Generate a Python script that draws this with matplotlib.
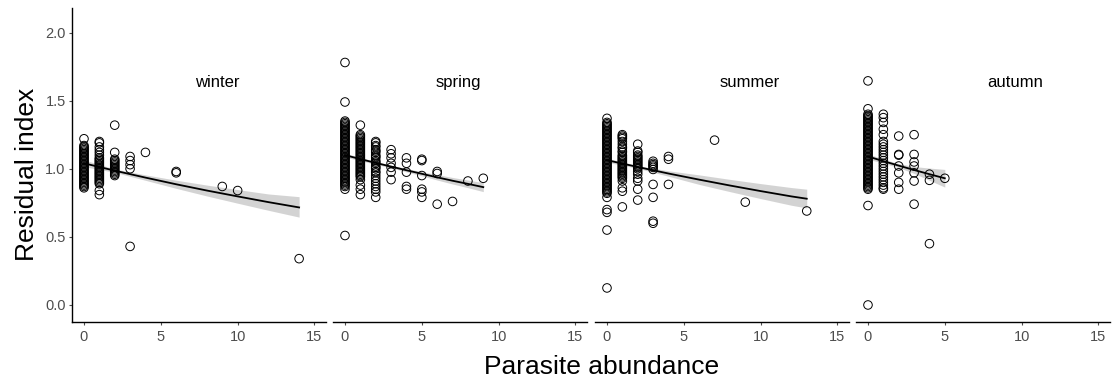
import numpy as np
import matplotlib
matplotlib.use('Agg')
import matplotlib.pyplot as plt

plt.rcParams['font.family'] = ['Liberation Sans', 'DejaVu Sans']

seasons = ['winter', 'spring', 'summer', 'autumn']

# parasite abundance columns and residual index values
winter_cols = [0, 1, 2, 3, 4, 6, 9, 10, 14]
winter_vals = [
    [1.22, 1.17, 1.16, 1.15, 1.14, 1.13, 1.12, 1.11, 1.10, 1.09, 1.08, 1.07, 1.06, 1.05, 1.04,
     1.03, 1.02, 1.01, 1.00, 0.99, 0.98, 0.97, 0.96, 0.95, 0.94, 0.93, 0.92, 0.91, 0.90, 0.89,
     0.88, 0.87, 0.86],
    [1.20, 1.19, 1.16, 1.14, 1.12, 1.10, 1.08, 1.07, 1.06, 1.05, 1.04, 1.03, 1.02, 1.01, 1.00,
     0.99, 0.98, 0.97, 0.96, 0.95, 0.94, 0.93, 0.92, 0.91, 0.90, 0.89, 0.84, 0.81],
    [1.32, 1.12, 1.07, 1.06, 1.05, 1.04, 1.03, 1.02, 1.01, 1.00, 0.99, 0.98, 0.97, 0.96, 0.95],
    [1.09, 1.06, 1.03, 1.00, 0.43],
    [1.12],
    [0.98, 0.97],
    [0.87],
    [0.84],
    [0.34],
]

spring_cols = [0, 1, 2, 3, 4, 5, 6, 7, 8, 9]
spring_vals = [
    [1.78, 1.49, 1.35, 1.34, 1.33, 1.32, 1.31, 1.30, 1.29, 1.28, 1.27, 1.26, 1.25, 1.24, 1.23,
     1.22, 1.21, 1.20, 1.19, 1.18, 1.17, 1.16, 1.15, 1.14, 1.13, 1.12, 1.11, 1.10, 1.09, 1.08,
     1.07, 1.06, 1.05, 1.04, 1.03, 1.02, 1.01, 1.00, 0.99, 0.98, 0.97, 0.96, 0.95, 0.94, 0.93,
     0.92, 0.91, 0.90, 0.89, 0.88, 0.87, 0.85, 0.51],
    [1.32, 1.25, 1.24, 1.23, 1.22, 1.21, 1.20, 1.19, 1.18, 1.17, 1.16, 1.15, 1.14, 1.13, 1.12,
     1.11, 1.10, 1.09, 1.08, 1.07, 1.06, 1.05, 1.04, 1.03, 1.02, 1.01, 1.00, 0.99, 0.98, 0.97,
     0.96, 0.95, 0.94, 0.92, 0.88, 0.85, 0.81],
    [1.20, 1.19, 1.17, 1.16, 1.14, 1.13, 1.12, 1.10, 1.09, 1.08, 1.06, 1.05, 1.04, 1.02, 1.01,
     1.00, 0.98, 0.97, 0.95, 0.93, 0.91, 0.89, 0.87, 0.85, 0.83, 0.79],
    [1.14, 1.11, 1.08, 1.04, 1.01, 0.975, 0.92],
    [1.08, 1.04, 0.975, 0.87, 0.85],
    [1.07, 1.06, 0.95, 0.85, 0.83, 0.79],
    [0.98, 0.965, 0.74],
    [0.76],
    [0.91],
    [0.93],
]

summer_cols = [0, 1, 2, 3, 4, 7, 9, 13]
summer_vals = [
    [1.37, 1.34, 1.33, 1.32, 1.31, 1.30, 1.29, 1.28, 1.27, 1.26, 1.25, 1.24, 1.23, 1.22, 1.21,
     1.20, 1.19, 1.18, 1.17, 1.16, 1.15, 1.14, 1.13, 1.12, 1.11, 1.10, 1.09, 1.08, 1.07, 1.06,
     1.05, 1.04, 1.03, 1.02, 1.01, 1.00, 0.99, 0.98, 0.97, 0.96, 0.95, 0.94, 0.93, 0.92, 0.91,
     0.90, 0.89, 0.88, 0.87, 0.86, 0.85, 0.84, 0.83, 0.82, 0.79, 0.70, 0.68, 0.55, 0.125],
    [1.25, 1.24, 1.23, 1.22, 1.20, 1.18, 1.16, 1.15, 1.13, 1.12, 1.10, 1.09, 1.08, 1.07, 1.06,
     1.05, 1.04, 1.03, 1.02, 1.01, 1.00, 0.99, 0.98, 0.97, 0.96, 0.95, 0.94, 0.93, 0.91, 0.86,
     0.835, 0.72],
    [1.18, 1.13, 1.12, 1.10, 1.09, 1.08, 1.07, 1.06, 1.05, 1.04, 1.03, 1.02, 1.01, 1.00, 0.98,
     0.96, 0.93, 0.91, 0.85, 0.77],
    [1.055, 1.04, 1.03, 1.02, 1.01, 0.995, 0.885, 0.79, 0.615, 0.60],
    [1.09, 1.07, 0.885],
    [1.21],
    [0.755],
    [0.69],
]

autumn_cols = [0, 1, 2, 3, 4, 5]
autumn_vals = [
    [1.645, 1.44, 1.40, 1.39, 1.38, 1.37, 1.36, 1.35, 1.34, 1.33, 1.32, 1.31, 1.30, 1.29, 1.28,
     1.27, 1.26, 1.25, 1.24, 1.23, 1.22, 1.21, 1.20, 1.19, 1.18, 1.17, 1.16, 1.15, 1.14, 1.13,
     1.12, 1.11, 1.10, 1.09, 1.08, 1.07, 1.06, 1.05, 1.04, 1.03, 1.02, 1.01, 1.00, 0.99, 0.98,
     0.97, 0.96, 0.95, 0.94, 0.93, 0.92, 0.91, 0.90, 0.89, 0.88, 0.87, 0.86, 0.85, 0.73, 0.0],
    [1.40, 1.375, 1.34, 1.29, 1.25, 1.20, 1.18, 1.16, 1.14, 1.12, 1.10, 1.08, 1.06, 1.04, 1.02,
     1.00, 0.98, 0.96, 0.94, 0.92, 0.90, 0.88, 0.86, 0.85],
    [1.24, 1.105, 1.10, 1.02, 0.97, 0.90, 0.85],
    [1.25, 1.105, 1.05, 1.02, 0.97, 0.91, 0.74],
    [0.96, 0.915, 0.45],
    [0.93],
]

# fitted curve and confidence band
winter_fit_x = [0, 2, 4, 6, 8, 10, 12, 14]
winter_fit = [1.04, 0.986, 0.935, 0.886, 0.84, 0.797, 0.755, 0.716]
winter_lo = [1.015, 0.974, 0.915, 0.856, 0.80, 0.747, 0.695, 0.645]
winter_hi = [1.065, 0.998, 0.955, 0.916, 0.88, 0.847, 0.815, 0.795]

spring_fit_x = [0, 1, 2, 3, 4, 5, 6, 7, 8, 9]
spring_fit = [1.10, 1.071, 1.043, 1.016, 0.989, 0.963, 0.937, 0.912, 0.889, 0.865]
spring_lo = [1.085, 1.059, 1.033, 1.006, 0.977, 0.948, 0.917, 0.888, 0.861, 0.832]
spring_hi = [1.115, 1.083, 1.053, 1.026, 1.001, 0.978, 0.957, 0.936, 0.917, 0.898]

summer_fit_x = [0, 2, 4, 6, 8, 10, 12, 13]
summer_fit = [1.063, 1.013, 0.965, 0.92, 0.877, 0.836, 0.797, 0.78]
summer_lo = [1.048, 1.003, 0.945, 0.885, 0.832, 0.781, 0.732, 0.712]
summer_hi = [1.078, 1.023, 0.985, 0.955, 0.922, 0.891, 0.862, 0.85]

autumn_fit_x = [0, 1, 2, 3, 4, 5]
autumn_fit = [1.09, 1.056, 1.023, 0.991, 0.96, 0.93]
autumn_lo = [1.07, 1.041, 1.008, 0.966, 0.915, 0.865]
autumn_hi = [1.11, 1.071, 1.038, 1.016, 1.005, 0.995]

label_x = [8.7, 7.4, 9.3, 9.6]
label_y = 1.63

all_cols = [winter_cols, spring_cols, summer_cols, autumn_cols]
all_vals = [winter_vals, spring_vals, summer_vals, autumn_vals]
all_fit_x = [winter_fit_x, spring_fit_x, summer_fit_x, autumn_fit_x]
all_fit = [winter_fit, spring_fit, summer_fit, autumn_fit]
all_lo = [winter_lo, spring_lo, summer_lo, autumn_lo]
all_hi = [winter_hi, spring_hi, summer_hi, autumn_hi]

fig = plt.figure(figsize=(11.12, 3.85), dpi=100)
lefts = [72, 333, 595, 856]
W, H = 1112.0, 385.0
for i in range(4):
    ax = fig.add_axes([lefts[i] / W, 63 / H, 254 / W, 314 / H])
    xs = []
    ys = []
    for c, v in zip(all_cols[i], all_vals[i]):
        xs += [c] * len(v)
        ys += v
    ax.fill_between(all_fit_x[i], all_lo[i], all_hi[i], color='#cccccc', alpha=0.85, lw=0, zorder=1)
    ax.plot(all_fit_x[i], all_fit[i], color='black', lw=1.3, zorder=2)
    ax.scatter(xs, ys, s=38, facecolors='none', edgecolors='black', linewidths=0.7, zorder=3)
    ax.text(label_x[i], label_y, seasons[i], ha='center', va='center', fontsize=12, color='black')
    ax.set_xlim(-0.78, 15.75)
    ax.set_ylim(-0.125, 2.18)
    ax.set_xticks([0, 5, 10, 15])
    ax.spines['top'].set_visible(False)
    ax.spines['right'].set_visible(False)
    ax.spines['bottom'].set_linewidth(1.0)
    ax.tick_params(axis='x', colors='#4d4d4d', labelsize=10.5, length=2.5, width=0.8, pad=3)
    if i == 0:
        ax.set_yticks([0.0, 0.5, 1.0, 1.5, 2.0])
        ax.set_yticklabels(['0.0', '0.5', '1.0', '1.5', '2.0'])
        ax.tick_params(axis='y', colors='#4d4d4d', labelsize=10.5, length=2.5, width=0.8, pad=2)
        ax.spines['left'].set_linewidth(1.0)
    else:
        ax.spines['left'].set_visible(False)
        ax.set_yticks([])
    ax.patch.set_visible(False)

fig.text(27 / W, 1 - 174 / H, 'Residual index', rotation=90, ha='center', va='center', fontsize=19)
fig.text(602 / W, 1 - 367 / H, 'Parasite abundance', ha='center', va='center', fontsize=19)

fig.savefig('out.png', dpi=100)
